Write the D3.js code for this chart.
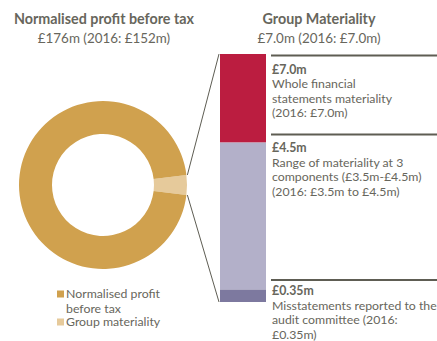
<!DOCTYPE html>
<html>
<head>
<meta charset="utf-8">
<script src="https://cdn.jsdelivr.net/npm/d3@7"></script>
<style>
  html, body { margin: 0; padding: 0; background: #fff; }
  svg { display: block; font-family: Lato, "Open Sans", sans-serif; }
</style>
</head>
<body>
<svg id="chart" width="437" height="341"></svg>
<script>
// Donut: normalised profit before tax vs group materiality (£m)
const donutCategories = ["Normalised profit before tax", "Group materiality"];
const donutValues = [176, 7];

// Materiality bar: stacked levels (£m), top to bottom
const barLevels = ["Whole financial statements materiality", "Range of materiality at 3 components", "Misstatements reported to the audit committee"];
const barValues = [7.0, 4.5, 0.35];
const barValueLabels = ["£7.0m", "£4.5m", "£0.35m"];
const barDescriptions = [
  ["Whole financial", "statements materiality", "(2016: £7.0m)"],
  ["Range of materiality at 3", "components (£3.5m-£4.5m)", "(2016: £3.5m to £4.5m)"],
  ["Misstatements reported to the", "audit committee (2016:", "£0.35m)"]
];

const titles = [
  { title: "Normalised profit before tax", sub: "£176m (2016: £152m)", x: 104 },
  { title: "Group Materiality", sub: "£7.0m (2016: £7.0m)", x: 319 }
];

const textColor = "#67665c";
const lineColor = "#5e5d53";
const donutColors = ["#d0a14e", "#e6ca9b"];
const barColors = ["#bb1d40", "#b3b0c9", "#7d799f"];
const bodySize = 12.3;

const svg = d3.select("#chart");

// Titles
titles.forEach(t => {
  svg.append("text").attr("x", t.x).attr("y", 24).attr("text-anchor", "middle")
    .attr("font-size", 14.3).attr("font-weight", 700).attr("fill", textColor).text(t.title);
  svg.append("text").attr("x", t.x).attr("y", 42.5).attr("text-anchor", "middle")
    .attr("font-size", 13.4).attr("fill", textColor).text(t.sub);
});

// Donut
const cx = 103, cy = 185, outerR = 84, innerR = 51;
const total = d3.sum(donutValues);
const half = Math.PI * donutValues[1] / total;
const start = Math.PI / 2 - half;
const pie = d3.pie().sort(null).startAngle(start).endAngle(start + 2 * Math.PI);
const slices = pie([donutValues[1], donutValues[0]]);
const arc = d3.arc().innerRadius(innerR).outerRadius(outerR);
const g = svg.append("g").attr("transform", `translate(${cx},${cy})`);
g.selectAll("path").data(slices).join("path")
  .attr("d", arc)
  .attr("fill", (d, i) => i === 0 ? donutColors[1] : donutColors[0]);

// Bar scale
const barX = 220, barW = 46;
const y = d3.scaleLinear().domain([0, barValues[0]]).range([302, 54]);
const bounds = barValues.concat([0]);
svg.selectAll("rect.seg").data(barValues).join("rect")
  .attr("class", "seg")
  .attr("x", barX).attr("width", barW)
  .attr("y", d => y(d))
  .attr("height", (d, i) => y(bounds[i + 1]) - y(d))
  .attr("fill", (d, i) => barColors[i]);

// Connectors from the materiality slice to the bar
const m = slices[0];
const pt = a => [cx + outerR * Math.sin(a), cy - outerR * Math.cos(a)];
const p0 = pt(m.startAngle), p1 = pt(m.endAngle);
svg.append("line").attr("x1", p0[0] + 1).attr("y1", p0[1]).attr("x2", barX - 1).attr("y2", y(barValues[0]))
  .attr("stroke", lineColor).attr("stroke-width", 1);
svg.append("line").attr("x1", p1[0] + 1).attr("y1", p1[1]).attr("x2", barX - 1).attr("y2", y(0))
  .attr("stroke", lineColor).attr("stroke-width", 1);

// Labels for each level
const lineY = [y(barValues[0]) + 1.5, y(barValues[1]) - 8, y(barValues[2]) - 9.5];
const textShift = [0, -0.5, -3];
barValues.forEach((v, i) => {
  const ly = lineY[i];
  const ty = ly + textShift[i];
  svg.append("line").attr("x1", 271).attr("x2", 437).attr("y1", ly).attr("y2", ly)
    .attr("stroke", lineColor).attr("stroke-width", 2);
  svg.append("text").attr("x", 272).attr("y", ty + 18)
    .attr("font-size", bodySize).attr("font-weight", 700).attr("fill", textColor).text(barValueLabels[i]);
  barDescriptions[i].forEach((line, j) => {
    svg.append("text").attr("x", 272).attr("y", ty + 32.5 + j * 14.5)
      .attr("font-size", bodySize).attr("fill", textColor).text(line);
  });
});

// Legend
const legend = [
  { lines: ["Normalised profit", "before tax"], color: donutColors[0], y: 294 },
  { lines: ["Group materiality"], color: donutColors[1], y: 322 }
];
legend.forEach(l => {
  svg.append("rect").attr("x", 57).attr("y", l.y - 3.5).attr("width", 7).attr("height", 7).attr("fill", l.color);
  l.lines.forEach((t, j) => {
    svg.append("text").attr("x", 66).attr("y", l.y + 4 + j * 14.5)
      .attr("font-size", bodySize).attr("fill", textColor).text(t);
  });
});
</script>
</body>
</html>
